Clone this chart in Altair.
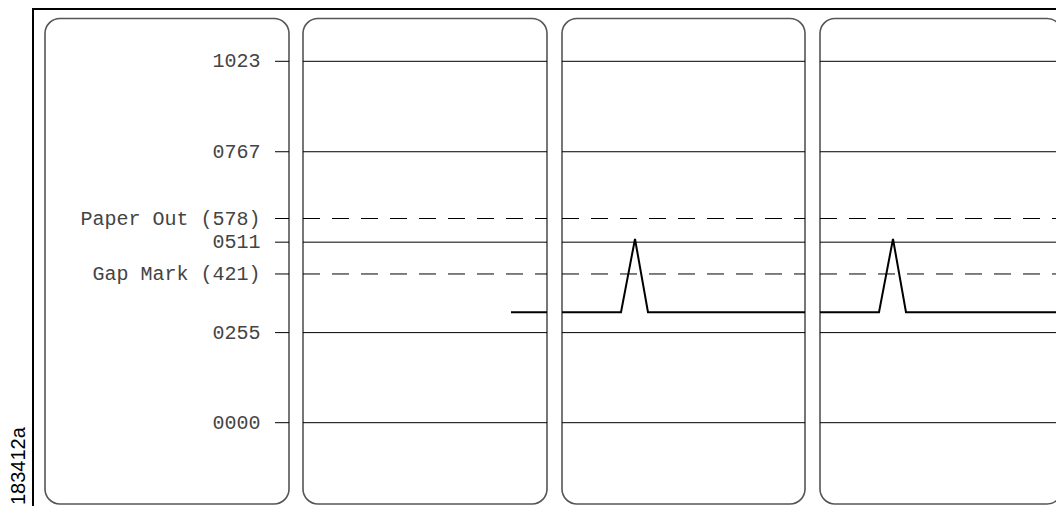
import altair as alt
import pandas as pd

# ---- data ----
level_values = [1023, 767, 511, 255, 0]
level_labels = ["1023", "0767", "0511", "0255", "0000"]
threshold_values = [578, 421]
threshold_labels = ["Paper Out (578)", "Gap Mark (421)"]

# sensor signal (x in sample units, y in ADC counts), one list per panel
sig_panel = [2, 2, 3, 3, 3, 3, 3, 4, 4, 4, 4, 4]
sig_x = [503, 539, 554, 613, 627, 640, 797, 812, 871, 885, 898, 1054]
sig_y = [313, 313, 313, 313, 520, 313, 313, 313, 313, 520, 313, 313]

panel_ids = [1, 2, 3, 4]
panel_start = [37, 295, 554, 812]
panel_end = [281, 539, 797, 1054]

figure_id = "183412a"

# ---- layout ----
W, H = 1048, 498
K = 361.4 / 1023.0          # px per ADC count
Y0 = 414.7                  # px of ADC 0
y_dom = [(Y0 - H) / K, Y0 / K]

xs = alt.Scale(domain=[0, W], range=[0, W], nice=False, zero=False)
ys = alt.Scale(domain=y_dom, nice=False, zero=False)
X = lambda f: alt.X(f, type="quantitative", scale=xs, axis=None)
X2 = lambda f: alt.X2(f)
Y = lambda f: alt.Y(f, type="quantitative", scale=ys, axis=None)

panels = pd.DataFrame({"panel": panel_ids, "x0": panel_start, "x1": panel_end})

# line segments: panel 1 only a short tick before its right edge
seg_x0 = [panel_end[0] - 14] + panel_start[1:]
seg_x1 = panel_end
segs = pd.DataFrame({"x0": seg_x0, "x1": seg_x1})

levels = pd.DataFrame({"v": level_values, "label": level_labels})
thr = pd.DataFrame({"v": threshold_values, "label": threshold_labels})
level_rules = levels.merge(segs, how="cross")
thr_rules = thr.merge(segs, how="cross")

signal = pd.DataFrame({"panel": sig_panel, "x": sig_x, "y": sig_y})

frame = alt.Chart(pd.DataFrame({"a": [0]})).mark_rect(
    fill="white", stroke="black", strokeWidth=2
).encode(x=alt.value(25), x2=alt.value(W + 20), y=alt.value(1), y2=alt.value(H + 20))

panel_layer = alt.Chart(panels).mark_rect(
    fill="white", stroke="#555555", strokeWidth=1.6, cornerRadius=15
).encode(x=X("x0"), x2=X2("x1"), y=alt.value(10.5), y2=alt.value(496))

level_layer = alt.Chart(level_rules).mark_rule(color="black", strokeWidth=1).encode(
    x=X("x0"), x2=X2("x1"), y=Y("v")
)
thr_layer = alt.Chart(thr_rules).mark_rule(
    color="black", strokeWidth=1, strokeDash=[17, 12]
).encode(x=X("x0"), x2=X2("x1"), y=Y("v"))

signal_layer = alt.Chart(signal).mark_line(
    color="black", strokeWidth=2, strokeJoin="miter"
).encode(x=X("x"), y=Y("y"), detail="panel:N")

label_df = pd.concat([levels, thr], ignore_index=True)
label_layer = alt.Chart(label_df).mark_text(
    font="Liberation Mono", fontSize=20, color="#444444", align="right", baseline="middle"
).encode(x=alt.value(252.5), y=Y("v"), text="label:N")

fig_text = alt.Chart(pd.DataFrame({"t": [figure_id]})).mark_text(
    font="Liberation Sans", fontSize=20, color="black", angle=270,
    align="left", baseline="alphabetic"
).encode(x=alt.value(17), y=alt.value(H - 1), text="t:N")

chart = alt.layer(
    frame, panel_layer, level_layer, thr_layer, signal_layer, label_layer, fig_text
).properties(
    width=W, height=H, padding=0, autosize=alt.AutoSizeParams(type="none")
).configure_view(stroke=None)

chart.save("out.html", embed_options={"renderer": "svg", "actions": False})
